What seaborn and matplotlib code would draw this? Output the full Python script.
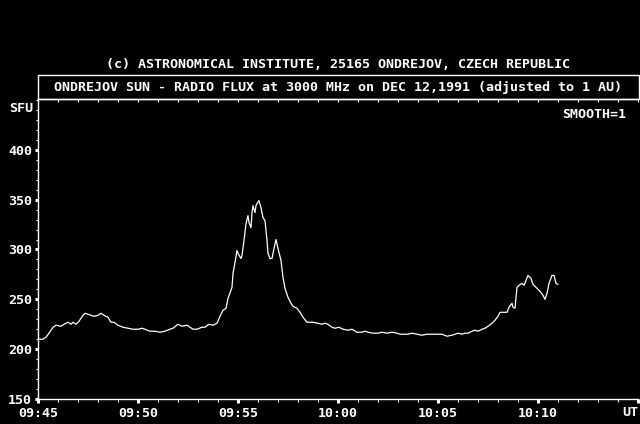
import matplotlib
matplotlib.use("Agg")
import matplotlib.pyplot as plt
from matplotlib.patches import Rectangle
from matplotlib.ticker import MultipleLocator
import seaborn as sns
import pandas as pd

# minutes after 09:45 UT
minutes = [0.00, 0.25, 0.40, 0.55, 0.75, 0.90, 1.15, 1.30, 1.50, 1.65, 1.75, 1.90, 2.05, 2.25, 2.35,
           2.50, 2.65, 2.80, 3.00, 3.15, 3.30, 3.50, 3.65, 3.80, 4.00, 4.25, 4.50, 4.75, 5.00, 5.20,
           5.35, 5.45, 5.60, 5.85, 6.10, 6.35, 6.60, 6.75, 7.00, 7.20, 7.45, 7.60, 7.75, 7.95, 8.20,
           8.35, 8.55, 8.75, 8.95, 9.10, 9.25, 9.40, 9.50, 9.70, 9.75, 9.85, 9.95, 10.00, 10.15, 10.20,
           10.30, 10.40, 10.50, 10.55, 10.65, 10.70, 10.75, 10.85, 10.90, 10.95, 11.05, 11.15, 11.25,
           11.35, 11.45, 11.50, 11.60, 11.70, 11.80, 11.90, 12.00, 12.15, 12.25, 12.35, 12.50, 12.65,
           12.75, 12.95, 13.10, 13.25, 13.45, 13.60, 13.75, 14.00, 14.20, 14.35, 14.50, 14.70, 14.85,
           15.05, 15.25, 15.50, 15.70, 15.95, 16.20, 16.35, 16.50, 16.75, 17.00, 17.20, 17.45, 17.70,
           17.95, 18.10, 18.25, 18.50, 18.70, 18.95, 19.20, 19.45, 19.70, 19.95, 20.20, 20.45, 20.70,
           20.85, 21.00, 21.20, 21.35, 21.50, 21.70, 21.85, 22.00, 22.20, 22.35, 22.50, 22.70, 22.85,
           23.00, 23.10, 23.25, 23.45, 23.55, 23.70, 23.75, 23.85, 23.95, 24.05, 24.20, 24.30, 24.40,
           24.50, 24.65, 24.75, 24.95, 25.10, 25.25, 25.35, 25.45, 25.55, 25.70, 25.80, 25.90, 26.00]

flux_sfu = [210, 210, 212, 216, 222, 224, 223, 225, 227, 225, 227, 225, 228, 234, 236,
            235, 234, 233, 234, 236, 234, 232, 227, 227, 224, 222, 221, 220, 220, 221,
            220, 219, 218, 218, 217, 218, 220, 221, 225, 223, 224, 222, 220, 220, 222,
            222, 225, 224, 226, 233, 239, 241, 251, 262, 276, 287, 299, 296, 291, 294,
            309, 326, 334, 327, 322, 337, 344, 337, 344, 346, 349, 342, 332,
            329, 309, 296, 291, 291, 301, 310, 301, 289, 272, 261, 252, 246,
            243, 241, 237, 232, 227, 227, 227, 226, 225, 226, 225, 222, 221,
            222, 220, 219, 220, 217, 217, 218, 217, 216, 216, 217, 216, 217,
            216, 215, 215, 215, 216, 215, 214, 215, 215, 215, 215, 213, 214,
            215, 216, 215, 216, 216, 218, 219, 218, 220, 221, 223, 226, 229,
            233, 237, 237, 237, 242, 246, 242, 241, 262, 264, 266, 264, 269,
            274, 271, 265, 261, 258, 254, 250, 256, 266, 274, 274, 266, 265]

x_tick_minutes = [0, 5, 10, 15, 20, 25, 30]
x_tick_labels = ["09:45", "09:50", "09:55", "10:00", "10:05", "10:10", ""]
y_ticks = [150, 200, 250, 300, 350, 400]
y_tick_labels = ["150", "200", "250", "300", "350", "400"]

title = "ONDREJOV SUN - RADIO FLUX at 3000 MHz on DEC 12,1991 (adjusted to 1 AU)"
header = "(c) ASTRONOMICAL INSTITUTE, 25165 ONDREJOV, CZECH REPUBLIC"

sns.set_theme(style="ticks")
plt.rcParams["font.family"] = ["DejaVu Sans Mono"]
plt.rcParams["font.weight"] = "bold"

W, H = 640, 424
fig = plt.figure(figsize=(W / 100, H / 100), dpi=100, facecolor="black")

def fx(px):
    return px / W

def fy(py):
    return 1 - py / H

left, right, top, bottom = 38, 638, 99, 399
ax = fig.add_axes([fx(left), fy(bottom), fx(right - left), fy(top) - fy(bottom)])
ax.set_facecolor("black")

df = pd.DataFrame({"t": minutes, "flux": flux_sfu})
sns.lineplot(data=df, x="t", y="flux", ax=ax, color="white", linewidth=0.9, estimator=None)

ax.set_xlim(0, 30)
ax.set_ylim(150, 451)
ax.set_xlabel("")
ax.set_ylabel("")

ax.spines["right"].set_visible(False)
for s in ["left", "bottom", "top"]:
    ax.spines[s].set_color("white")
    ax.spines[s].set_linewidth(1.0)

fs = 9.6
ax.set_xticks(x_tick_minutes)
ax.set_xticklabels(x_tick_labels)
ax.xaxis.set_minor_locator(MultipleLocator(1))
ax.set_yticks(y_ticks)
ax.set_yticklabels(y_tick_labels)
ax.yaxis.set_minor_locator(MultipleLocator(10))

ax.tick_params(axis="x", which="major", direction="out", length=3, width=2.2, color="white",
               labelcolor="white", labelsize=fs, pad=3, top=True, labeltop=False)
ax.tick_params(axis="x", which="minor", direction="out", length=2, width=0.8, color="white", top=True)
ax.tick_params(axis="y", which="major", direction="out", length=2.2, width=2.2, color="white",
               labelcolor="white", labelsize=fs, pad=2)
ax.tick_params(axis="y", which="minor", direction="out", length=1.2, width=0.8, color="white")
# top ticks point into the plot
for t in ax.xaxis.get_major_ticks() + ax.xaxis.get_minor_ticks():
    t.tick2line.set_marker(3)  # TICKDOWN
    t.tick2line.set_markersize(2)
    t.tick2line.set_markeredgewidth(0.8)

# title box
fig.patches.append(Rectangle((fx(left), fy(top)), fx(right + 1 - left), fy(75) - fy(top),
                             transform=fig.transFigure, fill=False, edgecolor="white",
                             linewidth=1.0))

fig.text(fx(338), fy(64), header, color="white", fontsize=fs, ha="center", va="center")
fig.text(fx(338), fy(87), title, color="white", fontsize=fs, ha="center", va="center")
fig.text(fx(33), fy(109), "SFU", color="white", fontsize=fs, ha="right", va="center")
fig.text(fx(626), fy(114), "SMOOTH=1", color="white", fontsize=fs, ha="right", va="center")
fig.text(fx(630), fy(412), "UT", color="white", fontsize=fs, ha="center", va="center")

fig.savefig("out.png", dpi=100, facecolor="black")
